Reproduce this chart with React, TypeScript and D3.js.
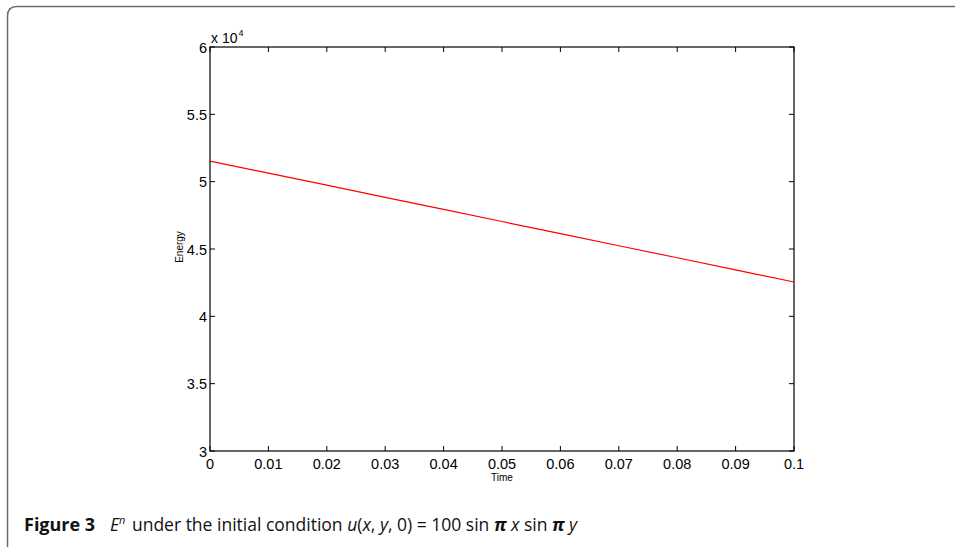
import { useEffect, useRef } from "react";
import * as d3 from "d3";

// values
const times = [0, 0.01, 0.02, 0.03, 0.04, 0.05, 0.06, 0.07, 0.08, 0.09, 0.1];
const energy = [51530, 50630, 49740, 48840, 47940, 47040, 46140, 45240, 44350, 43450, 42550];
const xTicks = [0, 0.01, 0.02, 0.03, 0.04, 0.05, 0.06, 0.07, 0.08, 0.09, 0.1];
const yTicks = [30000, 35000, 40000, 45000, 50000, 55000, 60000];

const width = 955;
const height = 547;
const margin = { left: 210, top: 47, right: 161, bottom: 96 };

const App = () => {
  const svgRef = useRef<SVGSVGElement>(null);

  useEffect(() => {
    const svg = d3.select(svgRef.current);
    svg.selectAll("*").remove();

    const boundsWidth = width - margin.left - margin.right;
    const boundsHeight = height - margin.top - margin.bottom;

    // outer frame with rounded corner
    svg
      .append("path")
      .attr("d", "M 7.5 547 L 7.5 16 Q 7.5 6.5 17 6.5 L 956 6.5")
      .attr("fill", "none")
      .attr("stroke", "#6b6b6b")
      .attr("stroke-width", 1.5);

    const xScale = d3.scaleLinear().domain([0, 0.1]).range([0, boundsWidth]);
    const yScale = d3.scaleLinear().domain([30000, 60000]).range([boundsHeight, 0]);

    const g = svg
      .append("g")
      .attr("transform", `translate(${margin.left},${margin.top})`);

    const font = "'Liberation Sans', Arial, sans-serif";

    // ticks on all 4 sides, pointing inward
    const tickLen = 5;
    xTicks.forEach((t) => {
      const x = xScale(t);
      g.append("line")
        .attr("x1", x).attr("x2", x)
        .attr("y1", boundsHeight).attr("y2", boundsHeight - tickLen)
        .attr("stroke", "#000");
      g.append("line")
        .attr("x1", x).attr("x2", x)
        .attr("y1", 0).attr("y2", tickLen)
        .attr("stroke", "#000");
      g.append("text")
        .attr("x", x)
        .attr("y", boundsHeight + 18)
        .attr("text-anchor", "middle")
        .style("font-family", font)
        .style("font-size", "14.5px")
        .text(String(t));
    });

    yTicks.forEach((t) => {
      const y = yScale(t);
      g.append("line")
        .attr("x1", 0).attr("x2", tickLen)
        .attr("y1", y).attr("y2", y)
        .attr("stroke", "#000");
      g.append("line")
        .attr("x1", boundsWidth).attr("x2", boundsWidth - tickLen)
        .attr("y1", y).attr("y2", y)
        .attr("stroke", "#000");
      g.append("text")
        .attr("x", -3)
        .attr("y", y + 5.5)
        .attr("text-anchor", "end")
        .style("font-family", font)
        .style("font-size", "14.5px")
        .text(String(t / 10000));
    });

    // box
    g.append("rect")
      .attr("width", boundsWidth)
      .attr("height", boundsHeight)
      .attr("fill", "none")
      .attr("stroke", "#000")
      .attr("stroke-width", 1.2);

    // exponent label
    const exp = g.append("text")
      .attr("x", 1)
      .attr("y", -4)
      .style("font-family", font)
      .style("font-size", "14px");
    exp.append("tspan").text("x 10");
    exp.append("tspan").attr("dx", 1).attr("dy", -7).style("font-size", "9px").text("4");

    // the data line
    const line = d3
      .line<number>()
      .x((d, i) => xScale(times[i]))
      .y((d) => yScale(d));

    g.append("path")
      .datum(energy)
      .attr("fill", "none")
      .attr("stroke", "#ff0000")
      .attr("stroke-width", 1.2)
      .attr("d", line);

    // axis labels
    g.append("text")
      .attr("x", xScale(0.05))
      .attr("y", boundsHeight + 30)
      .attr("text-anchor", "middle")
      .style("font-family", font)
      .style("font-size", "10px")
      .text("Time");

    g.append("text")
      .attr("transform", `translate(-27,${boundsHeight / 2 - 2}) rotate(-90)`)
      .attr("text-anchor", "middle")
      .style("font-family", font)
      .style("font-size", "10px")
      .text("Energy");

    // caption
    const capFont = "'Open Sans', 'Noto Sans', sans-serif";
    svg.append("text")
      .attr("x", 24)
      .attr("y", 531)
      .style("font-family", capFont)
      .style("font-size", "18px")
      .style("font-weight", "bold")
      .attr("fill", "#111")
      .text("Figure 3");

    const cap = svg.append("text")
      .attr("x", 110)
      .attr("y", 531)
      .style("font-family", capFont)
      .style("font-size", "17.5px")
      .attr("fill", "#111");
    cap.append("tspan").style("font-style", "italic").text("E");
    cap.append("tspan").attr("dy", -7).style("font-size", "11px").style("font-style", "italic").text("n");
    cap.append("tspan").attr("dy", 7).attr("dx", 2).text(" under the initial condition ");
    cap.append("tspan").style("font-style", "italic").text("u");
    cap.append("tspan").text("(");
    cap.append("tspan").style("font-style", "italic").text("x");
    cap.append("tspan").text(", ");
    cap.append("tspan").style("font-style", "italic").text("y");
    cap.append("tspan").text(", 0) = 100 sin ");
    cap.append("tspan").style("font-style", "italic").style("font-weight", "bold").text("π");
    cap.append("tspan").style("font-style", "italic").text(" x");
    cap.append("tspan").text(" sin ");
    cap.append("tspan").style("font-style", "italic").style("font-weight", "bold").text("π");
    cap.append("tspan").style("font-style", "italic").text(" y");
  }, []);

  return (
    <svg
      ref={svgRef}
      width={width}
      height={height}
      style={{ position: "absolute", left: 0, top: 0, background: "#fff" }}
    ></svg>
  );
};

export default App;
